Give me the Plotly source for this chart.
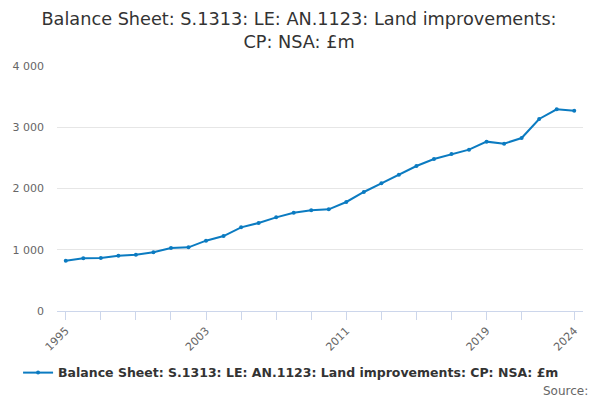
import plotly.graph_objects as go

# Land improvements, S.1313, current prices, £m
years = list(range(1995, 2025))
values = [822, 860, 865, 903, 920, 958, 1029, 1039, 1148, 1224,
          1366, 1437, 1529, 1605, 1644, 1660, 1780, 1943, 2084, 2226,
          2367, 2482, 2563, 2634, 2765, 2732, 2824, 3135, 3293, 3271]

tick_years = [1995, 1997, 1999, 2001, 2003, 2005, 2007, 2009, 2011, 2013,
              2015, 2017, 2019, 2021, 2024]
labelled = [1995, 2003, 2011, 2019, 2024]
tick_text = [str(y) if y in labelled else "" for y in tick_years]

series_name = "Balance Sheet: S.1313: LE: AN.1123: Land improvements: CP: NSA: £m"
line_color = "#0b7bc1"

fig = go.Figure()
fig.add_trace(go.Scatter(
    x=years, y=values, name=series_name, mode="lines+markers",
    line=dict(color=line_color, width=2),
    marker=dict(color=line_color, size=4),
))

# page has an 8px body margin, so the figure is a bit smaller and shifted
fig.update_layout(
    width=592, height=392,
    font=dict(family="DejaVu Sans", color="#333333"),
    title=dict(text="Balance Sheet: S.1313: LE: AN.1123: Land improvements:<br>CP: NSA: £m",
               x=0.4916, xanchor="center", y=0.957, yanchor="top",
               font=dict(size=17.7, color="#333333")),
    margin=dict(l=49, r=17, t=58, b=89, autoexpand=False),
    plot_bgcolor="white", paper_bgcolor="white",
    separators=". ",
    showlegend=True,
    legend=dict(orientation="h", x=0.445, xanchor="center", y=-0.253, yanchor="middle",
                font=dict(size=12.5, color="#333333", weight="bold")),
    xaxis=dict(range=[1994.5, 2024.5], tickvals=tick_years, ticktext=tick_text,
               tickangle=-45, ticks="outside", ticklen=8, tickcolor="#ccd6eb",
               showline=True, linecolor="#ccd6eb", showgrid=False,
               tickfont=dict(size=11, color="#666666")),
    yaxis=dict(range=[0, 4000], tickvals=[0, 1000, 2000, 3000, 4000],
               tickformat=",", ticklabelstandoff=12,
               gridcolor="#e6e6e6", zeroline=False, showline=False,
               tickfont=dict(size=11, color="#666666")),
    annotations=[dict(text="Source:", xref="paper", yref="paper",
                      x=1.013, y=-0.327, xanchor="right", yanchor="middle",
                      showarrow=False, font=dict(size=12, color="#666666"))],
)

fig.write_html("out.html")
